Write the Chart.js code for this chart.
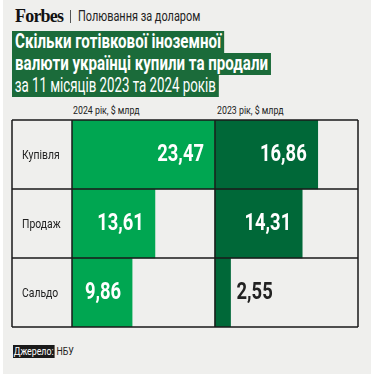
<!DOCTYPE html>
<html lang="uk">
<head>
<meta charset="utf-8">
<script src="https://cdn.jsdelivr.net/npm/chart.js@4"></script>
<style>
  html, body { margin: 0; padding: 0; background: #fff; }
  #page {
    position: absolute; left: 3px; top: 0; width: 368px; height: 374px;
    background: #efefed; overflow: hidden;
    font-family: Roboto, sans-serif;
  }
  .sq { transform-origin: 0 0; white-space: nowrap; }
  #logo { position: absolute; left: 12px; top: 6px; font: bold 18px 'Liberation Serif', serif; letter-spacing: -0.8px; color: #111; }
  #sep { position: absolute; left: 67px; top: 10px; width: 1px; height: 13px; background: #555; }
  #rubric { position: absolute; left: 75px; top: 8px; font-size: 14px; color: #222; transform: scaleX(0.78); }
  #title { position: absolute; left: 9px; top: 31px; color: #fff; font-size: 20px; line-height: 21px; }
  #title div { display: inline-block; background: #1b6b3a; padding: 0 4px 1px 4px; transform-origin: 0 0; }
  #title .b { font-weight: bold; transform: scaleX(0.755); }
  #title .r { transform: scaleX(0.665); }
  .colhead { position: absolute; top: 104px; font-size: 11px; color: #222; transform: scaleX(0.8); }
  #chartbox { position: absolute; left: -3px; top: 113px; width: 374px; height: 222px; }
  #src { position: absolute; left: 10px; top: 345px; font-size: 11px; color: #222; transform: scaleX(0.8); }
  #src span { background: #1a1a1a; color: #fff; padding: 0 1px; }
</style>
</head>
<body>
<div id="page">
  <div id="logo">Forbes</div>
  <div id="sep"></div>
  <div id="rubric" class="sq">Полювання за доларом</div>
  <div id="title" class="sq">
    <div class="b">Скільки готівкової іноземної</div><br>
    <div class="b">валюти українці купили та продали</div><br>
    <div class="r">за 11 місяців 2023 та 2024 років</div>
  </div>
  <div class="colhead sq" style="left:70px">2024 рік, $ млрд</div>
  <div class="colhead sq" style="left:214px">2023 рік, $ млрд</div>
  <div id="chartbox"><canvas id="c"></canvas></div>
  <div id="src" class="sq"><span>Джерело:</span> НБУ</div>
</div>
<script>
const rows = ['Купівля', 'Продаж', 'Сальдо'];
const values2024 = [23.47, 13.61, 9.86];
const values2023 = [16.86, 14.31, 2.55];
const colMax = 23.47;

const SQ = 0.8; // стиснення шрифту по горизонталі

// таблиця: лінії сітки + назви рядків
const gridPlugin = {
  id: 'tableGrid',
  afterDatasetsDraw(chart) {
    const { ctx, chartArea: a, scales: { x, y } } = chart;
    const left = 12;
    ctx.save();
    ctx.strokeStyle = '#1a1a1a';
    ctx.lineWidth = 1.5;
    ctx.beginPath();
    const n = rows.length;
    const step = (a.bottom - a.top) / n;
    for (let i = 0; i <= n; i++) {
      const yy = a.top + step * i;
      ctx.moveTo(left, yy); ctx.lineTo(a.right, yy);
    }
    [left, a.left, x.getPixelForValue(colMax), a.right].forEach(xx => {
      ctx.moveTo(xx, a.top); ctx.lineTo(xx, a.bottom);
    });
    ctx.stroke();

    ctx.fillStyle = '#222';
    ctx.font = '13px Roboto, sans-serif';
    ctx.textBaseline = 'middle';
    rows.forEach((r, i) => {
      ctx.save();
      ctx.translate(22, y.getPixelForValue(i) + 1);
      ctx.scale(SQ, 1);
      ctx.fillText(r, 0, 0);
      ctx.restore();
    });
    ctx.restore();
  }
};

// підписи значень
const valuePlugin = {
  id: 'valueLabels',
  afterDatasetsDraw(chart) {
    const { ctx } = chart;
    ctx.save();
    ctx.font = 'bold 23px Roboto, sans-serif';
    ctx.textBaseline = 'middle';
    chart.data.datasets.forEach((ds, di) => {
      const meta = chart.getDatasetMeta(di);
      meta.data.forEach((bar, i) => {
        const v = ds.raw[i];
        const txt = v.toFixed(2).replace('.', ',');
        const w = ctx.measureText(txt).width * SQ;
        const barW = Math.abs(bar.x - bar.base);
        ctx.save();
        if (barW > w + 16) {
          ctx.fillStyle = '#fff';
          ctx.translate(bar.x - 11 - w, bar.y + 1);
        } else {
          ctx.fillStyle = '#222';
          ctx.translate(bar.x + 6, bar.y + 1);
        }
        ctx.scale(SQ, 1);
        ctx.fillText(txt, 0, 0);
        ctx.restore();
      });
    });
    ctx.restore();
  }
};

new Chart(document.getElementById('c'), {
  type: 'bar',
  data: {
    labels: rows,
    datasets: [
      {
        raw: values2024,
        data: values2024.map(v => [0, v]),
        backgroundColor: '#00a651',
        grouped: false,
        barPercentage: 1,
        categoryPercentage: 1
      },
      {
        raw: values2023,
        data: values2023.map(v => [colMax, colMax + v]),
        backgroundColor: '#006838',
        grouped: false,
        barPercentage: 1,
        categoryPercentage: 1
      }
    ]
  },
  options: {
    indexAxis: 'y',
    responsive: true,
    maintainAspectRatio: false,
    animation: false,
    layout: { padding: { left: 12, right: 16, top: 7, bottom: 8 } },
    plugins: { legend: { display: false }, tooltip: { enabled: false } },
    scales: {
      x: {
        min: 0, max: colMax * 2,
        display: false
      },
      y: {
        afterFit: s => { s.width = 60; },
        grid: { display: false },
        border: { display: false },
        ticks: { display: false }
      }
    }
  },
  plugins: [gridPlugin, valuePlugin]
});
</script>
</body>
</html>
